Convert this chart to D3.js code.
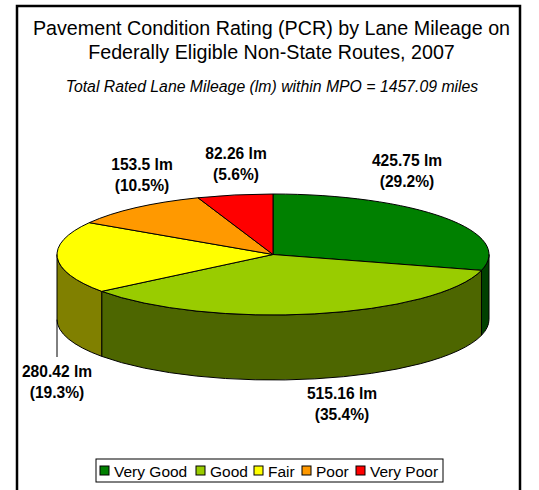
<!DOCTYPE html>
<html>
<head>
<meta charset="utf-8">
<script src="https://cdn.jsdelivr.net/npm/d3@7"></script>
<style>
	html, body { margin: 0; padding: 0; background: #fff; }
	svg { display: block; }
	text { font-family: "Liberation Sans", Arial, sans-serif; fill: #000; }
	.label { font-size: 15.6px; font-weight: bold; text-anchor: middle; }
</style>
</head>
<body>
<div id="chart"></div>
<script>
var w = 539;
var h = 490;

var categories = ["Very Good", "Good", "Fair", "Poor", "Very Poor"];
var mileage = [425.75, 515.16, 280.42, 153.5, 82.26];
var percents = ["29.2%", "35.4%", "19.3%", "10.5%", "5.6%"];
var mileageLabels = ["425.75 lm", "515.16 lm", "280.42 lm", "153.5 lm", "82.26 lm"];
var topColors = ["#008000", "#99cc00", "#ffff00", "#ff9900", "#ff0000"];
var wallColors = ["#004000", "#4d6600", "#808000", "#804d00", "#800000"];
var labelSpots = [[407, 166], [342, 399], [57, 377], [142, 170], [236, 159]];

var cx = 273, cy = 254.5, rx = 216, ry = 60.5, depth = 65;

var svg = d3.select("#chart").append("svg")
	.attr("width", w)
	.attr("height", h);

//outer frame, open at the bottom
svg.append("path")
	.attr("d", "M17,490V6H520V490")
	.attr("fill", "none")
	.attr("stroke", "#000")
	.attr("stroke-width", 2.5);

var titleLines = ["Pavement Condition Rating (PCR) by Lane Mileage on", "Federally Eligible Non-State Routes, 2007"];
svg.selectAll(".title")
	.data(titleLines)
	.enter().append("text")
	.attr("class", "title")
	.attr("x", 271.5)
	.attr("y", function(d, i) { return 35 + i * 24; })
	.attr("text-anchor", "middle")
	.attr("font-size", 19.7)
	.text(function(d) { return d; });

svg.append("text")
	.attr("x", 272)
	.attr("y", 92)
	.attr("text-anchor", "middle")
	.attr("font-size", 15.8)
	.attr("font-style", "italic")
	.text("Total Rated Lane Mileage (lm) within MPO = 1457.09 miles");

//angles come from d3.pie, starting at 12 o'clock and going clockwise
var pie = d3.pie().sort(null);
var slices = pie(mileage);

function px(a) { return cx + rx * Math.sin(a); }
function py(a) { return cy - ry * Math.cos(a); }

function wallPath(a0, a1) {
	return "M" + px(a0) + "," + py(a0)
		+ "A" + rx + "," + ry + " 0 0 1 " + px(a1) + "," + py(a1)
		+ "V" + (py(a1) + depth)
		+ "A" + rx + "," + ry + " 0 0 0 " + px(a0) + "," + (py(a0) + depth)
		+ "Z";
}

//only the front half of the disc shows a wall
var walls = slices.filter(function(d) {
	return d.endAngle > Math.PI / 2 && d.startAngle < Math.PI * 1.5;
});

svg.selectAll(".wall")
	.data(walls)
	.enter().append("path")
	.attr("class", "wall")
	.attr("d", function(d) {
		return wallPath(Math.max(d.startAngle, Math.PI / 2), Math.min(d.endAngle, Math.PI * 1.5));
	})
	.attr("fill", function(d) { return wallColors[d.index]; })
	.attr("stroke", "#000")
	.attr("stroke-width", 1);

//top face: a circular arc squashed to the ellipse
var arc = d3.arc().innerRadius(0).outerRadius(rx);

svg.append("g")
	.attr("transform", "translate(" + cx + "," + cy + ") scale(1," + (ry / rx) + ")")
	.selectAll("path")
	.data(slices)
	.enter().append("path")
	.attr("d", arc)
	.attr("fill", function(d) { return topColors[d.index]; })
	.attr("stroke", "#000")
	.attr("stroke-width", 1)
	.attr("vector-effect", "non-scaling-stroke");

//leader line for the Fair label
svg.append("line")
	.attr("x1", px(Math.PI * 1.5))
	.attr("y1", cy + depth)
	.attr("x2", px(Math.PI * 1.5))
	.attr("y2", 357)
	.attr("stroke", "#000")
	.attr("stroke-width", 1);

var labels = svg.selectAll(".label")
	.data(categories)
	.enter().append("text")
	.attr("class", "label")
	.attr("y", function(d, i) { return labelSpots[i][1]; });

labels.append("tspan")
	.attr("x", function(d, i) { return labelSpots[i][0]; })
	.text(function(d, i) { return mileageLabels[i]; });

labels.append("tspan")
	.attr("x", function(d, i) { return labelSpots[i][0]; })
	.attr("dy", 21)
	.text(function(d, i) { return "(" + percents[i] + ")"; });

//legend
var legendX = [98, 194, 252, 300, 354];

svg.append("rect")
	.attr("x", 96)
	.attr("y", 459)
	.attr("width", 347)
	.attr("height", 23)
	.attr("fill", "#fff")
	.attr("stroke", "#000")
	.attr("stroke-width", 1);

var legend = svg.selectAll(".legend")
	.data(categories)
	.enter().append("g")
	.attr("class", "legend")
	.attr("transform", function(d, i) { return "translate(" + legendX[i] + ",466)"; });

legend.append("rect")
	.attr("x", 2)
	.attr("width", 9)
	.attr("height", 9)
	.attr("fill", function(d, i) { return topColors[i]; })
	.attr("stroke", "#000");

legend.append("text")
	.attr("x", 16)
	.attr("y", 11)
	.attr("font-size", 15.5)
	.text(function(d) { return d; });
</script>
</body>
</html>
